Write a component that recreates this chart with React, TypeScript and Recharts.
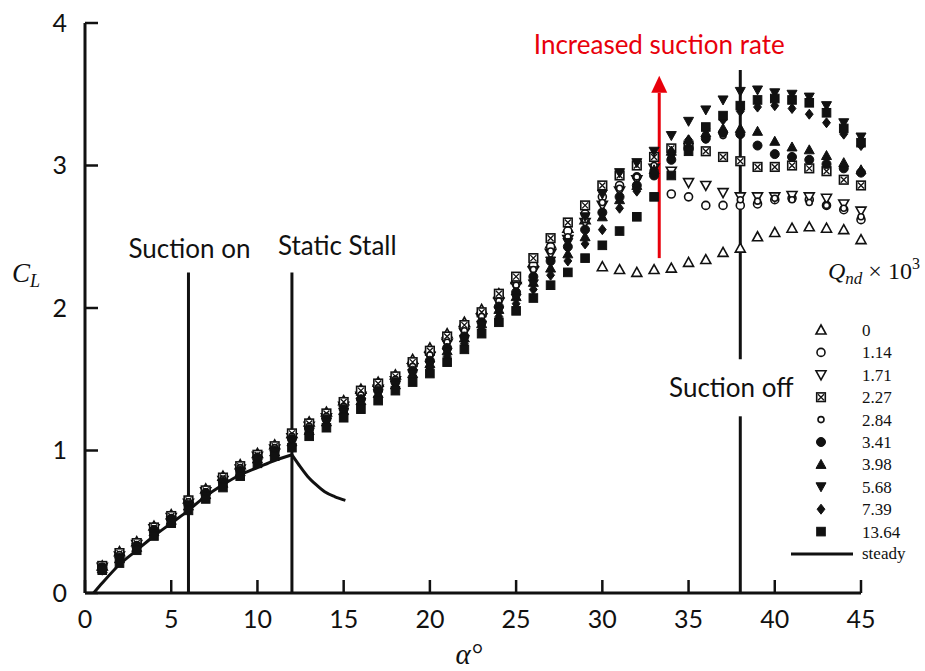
import React from "react";
import {
  ComposedChart,
  Scatter,
  Line,
  XAxis,
  YAxis,
  ReferenceLine,
  ReferenceDot,
  Legend,
} from "recharts";

// angle of attack (deg) for every suction series
const alpha = [
  1, 2, 3, 4, 5, 6, 7, 8, 9, 10, 11, 12, 13, 14, 15, 16, 17, 18, 19, 20, 21, 22, 23,
  24, 25, 26, 27, 28, 29, 30, 31, 32, 33, 34, 35, 36, 37, 38, 39, 40, 41, 42, 43, 44, 45,
];

// C_L, one list per Qnd x 10^3
const q0 = [
  0.19, 0.29, 0.36, 0.47, 0.55, 0.66, 0.73, 0.82, 0.9, 0.98,
  1.04, 1.12, 1.2, 1.27, 1.35, 1.43, 1.48, 1.53, 1.64, 1.72,
  1.82, 1.9, 1.99, 2.1, 2.2, 2.32, 2.45, 2.56, 2.62, 2.29,
  2.27, 2.25, 2.27, 2.28, 2.32, 2.34, 2.39, 2.42, 2.5, 2.53,
  2.56, 2.57, 2.56, 2.55, 2.48,
];
const q114 = [
  0.18, 0.27, 0.35, 0.46, 0.54, 0.64, 0.72, 0.8, 0.88, 0.97,
  1.02, 1.11, 1.18, 1.25, 1.33, 1.4, 1.45, 1.51, 1.61, 1.68,
  1.78, 1.86, 1.96, 2.08, 2.19, 2.3, 2.43, 2.54, 2.66, 2.78,
  2.86, 2.92, 2.96, 2.8, 2.78, 2.72, 2.72, 2.72, 2.73, 2.76,
  2.77, 2.76, 2.72, 2.69, 2.62,
];
const q171 = [
  0.18, 0.26, 0.34, 0.45, 0.53, 0.63, 0.71, 0.79, 0.87, 0.96,
  1.01, 1.09, 1.17, 1.23, 1.31, 1.38, 1.43, 1.49, 1.58, 1.66,
  1.75, 1.83, 1.93, 2.04, 2.15, 2.26, 2.38, 2.48, 2.6, 2.72,
  2.82, 2.9, 2.98, 2.96, 2.88, 2.86, 2.81, 2.78, 2.78, 2.78,
  2.79, 2.78, 2.77, 2.73, 2.68,
];
const q227 = [
  0.19, 0.28, 0.35, 0.46, 0.54, 0.65, 0.72, 0.81, 0.89, 0.97,
  1.03, 1.12, 1.19, 1.26, 1.34, 1.42, 1.47, 1.52, 1.62, 1.7,
  1.8, 1.88, 1.97, 2.1, 2.22, 2.35, 2.49, 2.6, 2.72, 2.86,
  2.93, 3.0, 3.06, 3.12, 3.14, 3.1, 3.06, 3.03, 2.99, 2.99,
  3.0, 2.98, 2.96, 2.9, 2.86,
];
const q284 = [
  0.18, 0.27, 0.34, 0.45, 0.53, 0.64, 0.71, 0.8, 0.88, 0.96,
  1.02, 1.1, 1.17, 1.24, 1.31, 1.39, 1.44, 1.5, 1.59, 1.67,
  1.76, 1.84, 1.94, 2.05, 2.16, 2.27, 2.4, 2.5, 2.62, 2.74,
  2.84, 2.92, 3.0, 3.06, 3.12, 3.18, 3.21, 2.76, 2.75, 2.77,
  2.76, 2.74, 2.72, 2.7, 2.64,
];
const q341 = [
  0.18, 0.25, 0.33, 0.44, 0.52, 0.62, 0.7, 0.78, 0.86, 0.95,
  1.0, 1.08, 1.15, 1.22, 1.29, 1.36, 1.42, 1.48, 1.56, 1.63,
  1.72, 1.8, 1.9, 2.01, 2.11, 2.22, 2.33, 2.43, 2.55, 2.67,
  2.78, 2.86, 2.93, 3.04, 3.12, 3.19, 3.23, 3.22, 3.14, 3.08,
  3.06, 3.04, 3.01, 2.98, 2.95,
];
const q398 = [
  0.17, 0.24, 0.32, 0.43, 0.51, 0.61, 0.69, 0.77, 0.85, 0.94,
  0.99, 1.06, 1.14, 1.2, 1.28, 1.35, 1.4, 1.46, 1.54, 1.61,
  1.7, 1.79, 1.89, 1.99, 2.08, 2.18, 2.28, 2.38, 2.5, 2.64,
  2.76, 2.86, 2.97, 3.1, 3.18, 3.23, 3.26, 3.26, 3.24, 3.17,
  3.13, 3.11, 3.07, 3.02, 2.97,
];
const q568 = [
  0.17, 0.24, 0.32, 0.42, 0.51, 0.61, 0.68, 0.77, 0.85, 0.93,
  0.99, 1.06, 1.13, 1.2, 1.27, 1.34, 1.4, 1.46, 1.54, 1.6,
  1.69, 1.78, 1.88, 1.98, 2.07, 2.17, 2.33, 2.46, 2.64, 2.8,
  2.95, 3.02, 3.1, 3.21, 3.31, 3.39, 3.46, 3.52, 3.53, 3.51,
  3.5, 3.48, 3.42, 3.3, 3.2,
];
const q739 = [
  0.16, 0.23, 0.31, 0.41, 0.5, 0.6, 0.67, 0.76, 0.84, 0.92,
  0.98, 1.04, 1.12, 1.18, 1.25, 1.32, 1.38, 1.44, 1.51, 1.58,
  1.66, 1.75, 1.85, 1.94, 2.03, 2.13, 2.23, 2.33, 2.45, 2.55,
  2.7, 2.82, 2.95, 3.1, 3.18, 3.26, 3.32, 3.38, 3.41, 3.42,
  3.4, 3.36, 3.3, 3.22, 3.14,
];
const q1364 = [
  0.16, 0.21, 0.3, 0.4, 0.49, 0.58, 0.66, 0.74, 0.82, 0.91,
  0.96, 1.02, 1.1, 1.16, 1.23, 1.29, 1.35, 1.42, 1.48, 1.54,
  1.62, 1.71, 1.82, 1.9, 1.98, 2.07, 2.16, 2.25, 2.35, 2.44,
  2.54, 2.64, 2.78, 2.93, 3.1, 3.27, 3.35, 3.42, 3.46, 3.47,
  3.46, 3.44, 3.37, 3.26, 3.16,
];

// steady (no suction) curve, before and after static stall
const steadyPreAlpha = [0.5, 1, 2, 3, 4, 5, 6, 7, 8, 9, 10, 11, 12];
const steadyPreCl = [0, 0.07, 0.2, 0.3, 0.4, 0.49, 0.58, 0.68, 0.76, 0.83, 0.88, 0.93, 0.97];
const steadyPostAlpha = [12, 12.4, 12.9, 13.4, 13.9, 14.5, 15.1];
const steadyPostCl = [0.97, 0.9, 0.82, 0.76, 0.71, 0.675, 0.65];

const xTicks = [0, 5, 10, 15, 20, 25, 30, 35, 40, 45];
const yTicks = [0, 1, 2, 3, 4];

const INK = "#111";
const RED = "#e8000b";
const SANS = "Lato, 'Open Sans', sans-serif";
const SERIF = "'Liberation Serif', 'DejaVu Serif', serif";

type Kind =
  | "triUp"
  | "circle"
  | "triDown"
  | "boxX"
  | "dot"
  | "circleF"
  | "triUpF"
  | "triDownF"
  | "diamondF"
  | "squareF";

const series: { label: string; kind: Kind; values: number[] }[] = [
  { label: "0", kind: "triUp", values: q0 },
  { label: "1.14", kind: "circle", values: q114 },
  { label: "1.71", kind: "triDown", values: q171 },
  { label: "2.27", kind: "boxX", values: q227 },
  { label: "2.84", kind: "dot", values: q284 },
  { label: "3.41", kind: "circleF", values: q341 },
  { label: "3.98", kind: "triUpF", values: q398 },
  { label: "5.68", kind: "triDownF", values: q568 },
  { label: "7.39", kind: "diamondF", values: q739 },
  { label: "13.64", kind: "squareF", values: q1364 },
];

const toPoints = (xs: number[], ys: number[]) => xs.map((x, i) => ({ x, y: ys[i] }));
const steadyPre = toPoints(steadyPreAlpha, steadyPreCl);
const steadyPost = toPoints(steadyPostAlpha, steadyPostCl);

function Mark({ kind, cx, cy }: { kind: Kind; cx: number; cy: number }) {
  const s = 5;
  const open = { fill: "#fff", stroke: INK, strokeWidth: 1.6 };
  const full = { fill: INK, stroke: INK, strokeWidth: 1 };
  const up = `${cx},${cy - s} ${cx + s},${cy + s * 0.8} ${cx - s},${cy + s * 0.8}`;
  const down = `${cx},${cy + s} ${cx + s},${cy - s * 0.8} ${cx - s},${cy - s * 0.8}`;
  switch (kind) {
    case "triUp":
      return <polygon points={up} {...open} />;
    case "circle":
      return <circle cx={cx} cy={cy} r={4} {...open} />;
    case "triDown":
      return <polygon points={down} {...open} />;
    case "boxX":
      return (
        <g>
          <rect x={cx - 4.3} y={cy - 4.3} width={8.6} height={8.6} {...open} />
          <path d={`M${cx - 3},${cy - 3}L${cx + 3},${cy + 3}M${cx + 3},${cy - 3}L${cx - 3},${cy + 3}`} stroke={INK} strokeWidth={1.3} />
        </g>
      );
    case "dot":
      return <circle cx={cx} cy={cy} r={3} {...open} />;
    case "circleF":
      return <circle cx={cx} cy={cy} r={4.5} {...full} />;
    case "triUpF":
      return <polygon points={up} {...full} />;
    case "triDownF":
      return <polygon points={down} {...full} />;
    case "diamondF":
      return <polygon points={`${cx},${cy - s} ${cx + 3.9},${cy} ${cx},${cy + s} ${cx - 3.9},${cy}`} {...full} />;
    default:
      return <rect x={cx - 4.3} y={cy - 4.3} width={8.6} height={8.6} {...full} />;
  }
}

function LegendBox() {
  return (
    <svg width={145} height={320} style={{ overflow: "visible" }}>
      <text x={48} y={29} fontFamily={SERIF} fontSize={24} fill={INK}>
        <tspan fontStyle="italic">Q</tspan>
        <tspan fontStyle="italic" fontSize={17} dy={5}>nd</tspan>
        <tspan dy={-5}> × 10</tspan>
        <tspan fontSize={16} dy={-10}>3</tspan>
      </text>
      {series.map((s, i) => {
        const cy = 80 + i * 22.4;
        return (
          <g key={s.label}>
            <Mark kind={s.kind} cx={41} cy={cy} />
            <text x={82} y={cy + 6} fontFamily={SERIF} fontSize={17} fill={INK}>
              {s.label}
            </text>
          </g>
        );
      })}
      <line x1={11} x2={73} y1={304} y2={304} stroke={INK} strokeWidth={3} />
      <text x={82} y={309} fontFamily={SERIF} fontSize={17} fill={INK}>
        steady
      </text>
    </svg>
  );
}

const txt = { fontFamily: SANS, fontSize: 26, fill: INK };

export default function App() {
  return (
    <div style={{ width: 925, height: 671, background: "#fff" }}>
      <style>{`body{margin:0}`}</style>
      <ComposedChart width={925} height={671} margin={{ top: 23, right: 64, left: 25, bottom: 38 }}>
        <XAxis
          type="number"
          dataKey="x"
          domain={[0, 45]}
          ticks={xTicks}
          interval={0}
          height={40}
          tickSize={-13}
          tickMargin={30}
          axisLine={{ stroke: INK, strokeWidth: 3 }}
          tickLine={{ stroke: INK, strokeWidth: 2.5 }}
          tick={{ ...txt, fontSize: 25 }}
          label={({ viewBox }: any) => (
            <text x={viewBox.x + viewBox.width / 2 - 4} y={viewBox.y + 71} textAnchor="middle" fontFamily={SERIF} fontStyle="italic" fontSize={29} fill={INK}>
              α°
            </text>
          )}
        />
        <YAxis
          type="number"
          dataKey="y"
          domain={[0, 4]}
          ticks={yTicks}
          interval={0}
          width={60}
          tickSize={-13}
          tickMargin={31}
          axisLine={{ stroke: INK, strokeWidth: 3 }}
          tickLine={{ stroke: INK, strokeWidth: 2.5 }}
          tick={{ ...txt, fontSize: 25 }}
          label={({ viewBox }: any) => (
            <text x={viewBox.x - 13} y={viewBox.y + viewBox.height / 2 - 26} fontFamily={SERIF} fontStyle="italic" fontSize={27} fill={INK}>
              C<tspan fontSize={18} dy={5}>L</tspan>
            </text>
          )}
        />

        <ReferenceLine
          segment={[{ x: 6, y: 0 }, { x: 6, y: 2.25 }]}
          stroke={INK}
          strokeWidth={3}
          label={({ viewBox }: any) => (
            <text x={viewBox.x + 1} y={viewBox.y - 14} textAnchor="middle" {...txt}>
              Suction on
            </text>
          )}
        />
        <ReferenceLine
          segment={[{ x: 12, y: 0 }, { x: 12, y: 2.25 }]}
          stroke={INK}
          strokeWidth={3}
          label={({ viewBox }: any) => (
            <text x={viewBox.x - 14} y={viewBox.y - 17} {...txt}>
              Static Stall
            </text>
          )}
        />
        <ReferenceLine segment={[{ x: 38, y: 1.64 }, { x: 38, y: 3.67 }]} stroke={INK} strokeWidth={3} />
        <ReferenceLine
          segment={[{ x: 38, y: 0 }, { x: 38, y: 1.24 }]}
          stroke={INK}
          strokeWidth={3}
          label={({ viewBox }: any) => (
            <text x={viewBox.x - 9} y={viewBox.y - 19} textAnchor="middle" {...txt}>
              Suction off
            </text>
          )}
        />

        <Line data={steadyPre} dataKey="y" type="monotone" stroke={INK} strokeWidth={3} dot={false} isAnimationActive={false} />
        <Line data={steadyPost} dataKey="y" type="monotone" stroke={INK} strokeWidth={3} dot={false} isAnimationActive={false} />

        {series.map((s) => (
          <Scatter
            key={s.label}
            name={s.label}
            data={toPoints(alpha, s.values)}
            dataKey="y"
            isAnimationActive={false}
            shape={(p: any) => <Mark kind={s.kind} cx={p.cx} cy={p.cy} />}
          />
        ))}

        <ReferenceLine
          segment={[{ x: 33.3, y: 2.35 }, { x: 33.3, y: 3.51 }]}
          stroke={RED}
          strokeWidth={3}
          label={({ viewBox }: any) => (
            <text x={viewBox.x} y={viewBox.y - 39} textAnchor="middle" fontFamily={SANS} fontSize={26} fill={RED}>
              Increased suction rate
            </text>
          )}
        />
        <ReferenceDot
          x={33.3}
          y={3.51}
          r={0}
          shape={(p: any) => (
            <polygon points={`${p.cx},${p.cy - 17} ${p.cx + 8},${p.cy} ${p.cx - 8},${p.cy}`} fill={RED} />
          )}
        />

        <Legend
          layout="vertical"
          align="center"
          verticalAlign="middle"
          wrapperStyle={{ left: 780, top: 250, width: 145, height: 320 }}
          content={() => <LegendBox />}
        />
      </ComposedChart>
    </div>
  );
}
